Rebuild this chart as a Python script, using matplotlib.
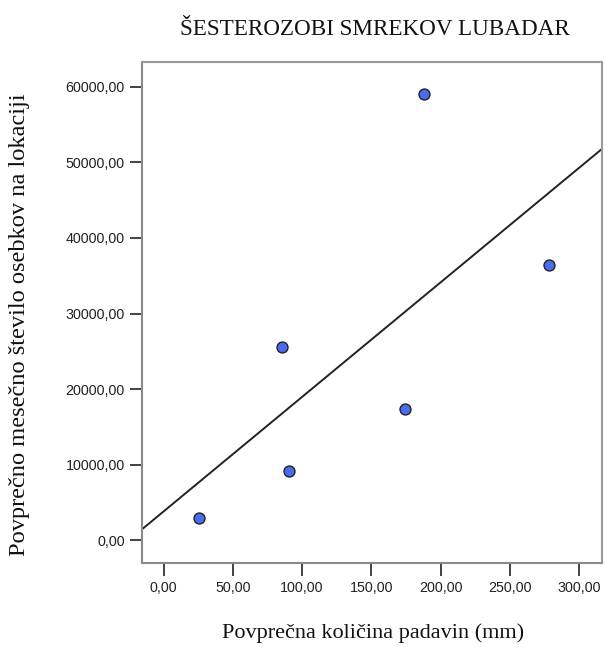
import numpy as np
import matplotlib
matplotlib.use("Agg")
import matplotlib.pyplot as plt
from matplotlib.ticker import FuncFormatter

# data
rain = [25.6, 85.6, 90.6, 174.3, 188.0, 278.3]
beetles = [2900, 25560, 9140, 17350, 59070, 36420]
x_ticks = [0, 50, 100, 150, 200, 250, 300]
y_ticks = [0, 10000, 20000, 30000, 40000, 50000, 60000]
title = "ŠESTEROZOBI SMREKOV LUBADAR"
xlabel = "Povprečna količina padavin (mm)"
ylabel = "Povprečno mesečno število osebkov na lokaciji"

fig = plt.figure(figsize=(6.06, 6.47), dpi=100)
ax = fig.add_axes([0.2335, 0.1298, 0.7599, 0.7744])

xlim = (-15.9, 316.6)
ylim = (-3046, 63311)

slope, intercept = np.polyfit(rain, beetles, 1)
xx = np.array(xlim)
ax.plot(xx, slope * xx + intercept, color="#222222", lw=1.4, zorder=2)
ax.scatter(rain, beetles, s=62, facecolor="#4a6cf0", edgecolor="#222222", linewidths=1.0, zorder=3)

ax.set_xlim(*xlim)
ax.set_ylim(*ylim)
ax.set_xticks(x_ticks)
ax.set_yticks(y_ticks)
fmt = FuncFormatter(lambda v, p: f"{v:.2f}".replace(".", ","))
ax.xaxis.set_major_formatter(fmt)
ax.yaxis.set_major_formatter(fmt)

for s in ax.spines.values():
    s.set_color("#9a9a9a")
    s.set_linewidth(1.5)
ax.spines["left"].set_color("#8a8a8a")
ax.spines["bottom"].set_color("#8a8a8a")

ax.tick_params(axis="both", length=9, width=1.3, color="#333333", labelcolor="#222222", direction="out")
for lab in ax.get_xticklabels() + ax.get_yticklabels():
    lab.set_fontfamily("Liberation Sans")
    lab.set_fontsize(10.3)
ax.tick_params(axis="x", pad=4)
ax.tick_params(axis="y", pad=3)

fig.text(0.619, 0.955, title, ha="center", va="center", fontfamily="Liberation Serif", fontsize=16.7, color="#111111")
fig.text(0.616, 0.022, xlabel, ha="center", va="center", fontfamily="Liberation Serif", fontsize=16, color="#111111")
fig.text(0.033, 0.498, ylabel, ha="center", va="center", rotation=90, fontfamily="Liberation Serif", fontsize=17.6, color="#111111")

fig.savefig("out.png", dpi=100, facecolor="white")
